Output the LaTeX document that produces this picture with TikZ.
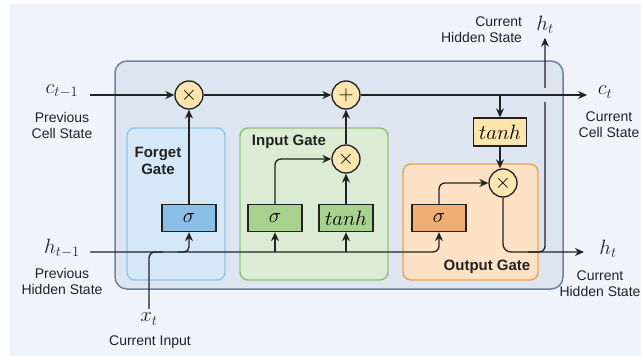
\documentclass[tikz,border=0pt]{standalone}
\usepackage{amsmath}
\usepackage{fontspec}
\setmainfont{Liberation Sans}
\usetikzlibrary{arrows.meta,positioning}

\definecolor{bgcol}{HTML}{EEF4F9}
\definecolor{cellfill}{HTML}{DDE5F1}
\definecolor{celldraw}{HTML}{6F819C}
\definecolor{fgfill}{HTML}{D5E8F8}
\definecolor{fgdraw}{HTML}{8EC5EA}
\definecolor{igfill}{HTML}{DCEBD3}
\definecolor{igdraw}{HTML}{8FC27A}
\definecolor{ogfill}{HTML}{FDE2C6}
\definecolor{ogdraw}{HTML}{EFA04E}
\definecolor{fgbox}{HTML}{8CBFE6}
\definecolor{igbox}{HTML}{A8D18D}
\definecolor{ogbox}{HTML}{F2AD75}
\definecolor{tcbox}{HTML}{FCE6AE}
\definecolor{opfill}{HTML}{FCE5B0}
\definecolor{ink}{HTML}{222222}

\begin{document}
\begin{tikzpicture}[%
    x=1pt, y=-1pt,
    >={Stealth[length=9pt,width=8pt]},
    line width=1.3pt,
    draw=ink,
    op/.style={circle, draw=ink, fill=opfill, minimum size=28pt, inner sep=0pt,
      font=\fontsize{22}{22}\selectfont},
    fn/.style={draw=ink, minimum width=54pt, minimum height=27pt, inner sep=0pt,
      font=\fontsize{20}{20}\selectfont},
    gate/.style={rounded corners=8pt, line width=1.4pt},
    lbl/.style={font=\fontsize{14}{16}\selectfont, align=center, text=ink},
    gatelbl/.style={font=\fontsize{15}{17}\bfseries\selectfont, align=center, text=ink},
    var/.style={font=\fontsize{22}{22}\selectfont, text=ink}
    ]

    % background and boxes
    \useasboundingbox (0,0) rectangle (641,356);
    \fill[white] (0,0) rectangle (641,356);
    \fill[bgcol] (10,4) rectangle (641,356);
    \filldraw[fill=cellfill, draw=celldraw, rounded corners=12pt, line width=1.5pt]
      (115,61) rectangle (563,289);
    \filldraw[gate, fill=fgfill, draw=fgdraw] (127,128) rectangle (225,280);
    \filldraw[gate, fill=igfill, draw=igdraw] (240,128) rectangle (388,280);
    \filldraw[gate, fill=ogfill, draw=ogdraw] (403,164) rectangle (538,280);

    \node[gatelbl] (fglbl) at (158,161) {Forget\\Gate};
    \node[gatelbl] (iglbl) at (289,142) {Input Gate};
    \node[gatelbl] (oglbl) at (487,267) {Output Gate};

    % operations
    \node[op] (fx) at (189,95) {$\times$};
    \node[op] (add) at (346,95) {$+$};
    \node[op] (im) at (346,159) {$\times$};
    \node[op] (om) at (503,183) {$\times$};

    \node[fn, fill=fgbox] (sf) at (189,218) {$\sigma$};
    \node[fn, fill=igbox] (si) at (275,218) {$\sigma$};
    \node[fn, fill=igbox] (ti) at (346,218) {$tanh$};
    \node[fn, fill=ogbox] (so) at (439,218) {$\sigma$};
    \node[fn, fill=tcbox, minimum width=53pt, minimum height=28pt] (tc) at (500,132) {$tanh$};

    % inputs and outputs
    \node[var] (cprev) at (62,91) {$c_{t-1}$};
    \node[lbl] (cprevlbl) at (62,125) {Previous\\Cell State};
    \node[var] (hprev) at (62,248) {$h_{t-1}$};
    \node[lbl] (hprevlbl) at (62,281) {Previous\\Hidden State};
    \node[var] (xt) at (149,319) {$x_t$};
    \node[lbl] (xtlbl) at (150,342) {Current Input};
    \node[var] (ct) at (605,92) {$c_t$};
    \node[lbl] (ctlbl) at (609,125) {Current\\Cell State};
    \node[var] (ht) at (608,249) {$h_t$};
    \node[lbl] (htlbl) at (600,284) {Current\\Hidden State};
    \node[var] (htop) at (545,25) {$h_t$};
    \node[lbl, align=right, anchor=east] (htoplbl) at (526,30) {Current\\Hidden State};

    \coordinate (cin) at (90,95);
    \coordinate (cout) at (587,95);
    \coordinate (hin) at (90,252);
    \coordinate (hout) at (584,252);
    \coordinate (xj) at (163,252);
    \coordinate (fj) at (178,252);
    \coordinate (hj) at (528,252);

    % hidden state output up
    \draw[->, rounded corners=6pt] (hj) -| (htop.south);
    \fill[cellfill] (541,88) rectangle (551,102);

    % cell state line
    \draw[->] (cin) -- (fx);
    \draw[->] (fx) -- (add);
    \draw[->] (add) -- (cout);
    \draw[->] (tc.north |- add) -- (tc.north);
    \draw[->] (tc.south) -- (om.north -| tc.south);

    % hidden state and input
    \draw[->, rounded corners=6pt] (hin) -| (so.south);
    \draw[rounded corners=6pt] (xt.north) |- (xj);
    \draw[->, rounded corners=5pt] (fj) -| (sf.south);
    \draw[->] (si.south |- hin) -- (si.south);
    \draw[->] (ti.south |- hin) -- (ti.south);

    % gates
    \draw[->] (sf) -- (fx);
    \draw[->, rounded corners=6pt] (si.north) |- (im.west);
    \draw[->] (ti) -- (im);
    \draw[->] (im) -- (add);
    \draw[->, rounded corners=6pt] (so.north) |- (om.west);
    \draw[->, rounded corners=8pt] (om.south) |- (hout);

\end{tikzpicture}
\end{document}
